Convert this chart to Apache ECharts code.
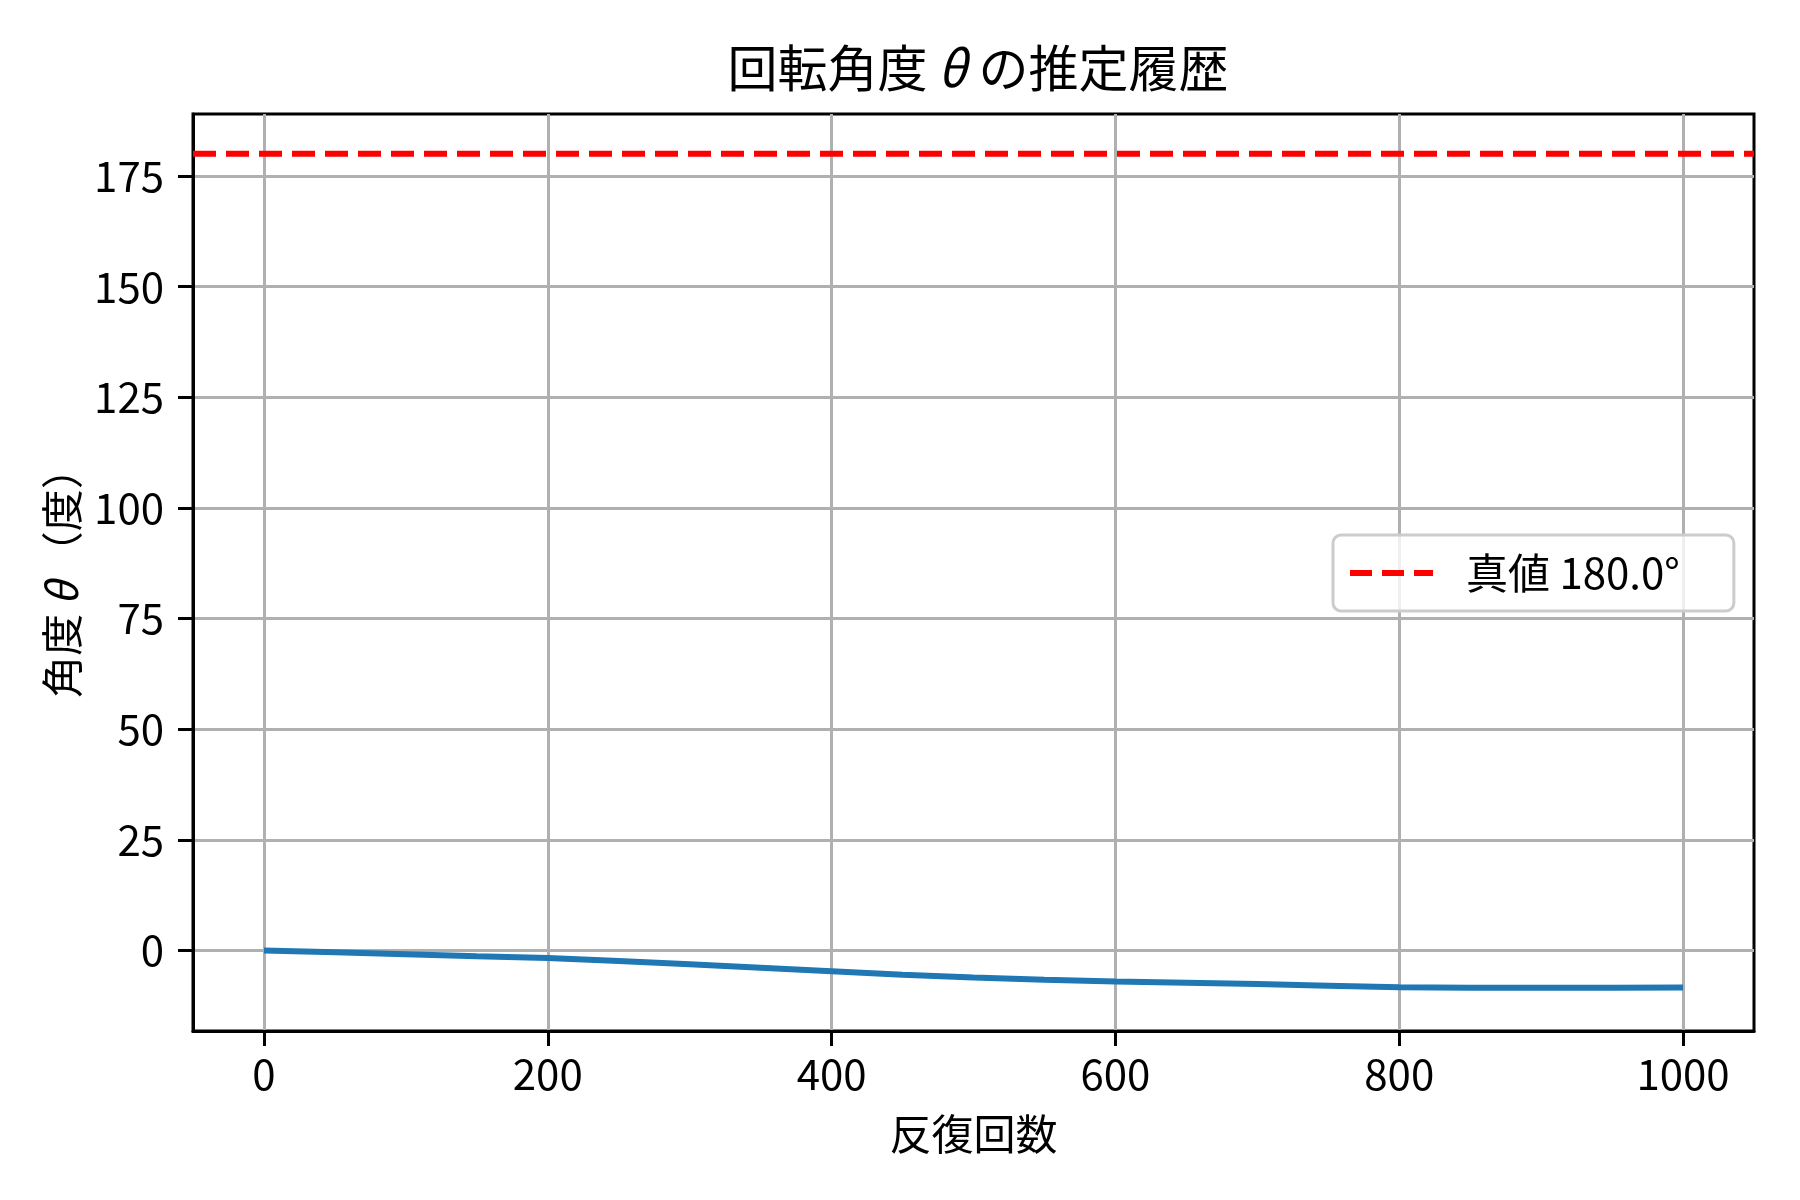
<!DOCTYPE html>
<html>
<head>
<meta charset="utf-8">
<script src="https://cdn.jsdelivr.net/npm/echarts@6/dist/echarts.min.js"></script>
<style>
  html, body, #main { width: 1800px; height: 1200px; margin: 0; background: #fff; }
</style>
</head>
<body>
<div id="main"></div>
<script>
// iteration counts and estimated angle (degrees)
var iterations = [0, 50, 100, 150, 200, 250, 300, 350, 400, 450, 500, 550, 600, 650, 700, 750, 800, 850, 900, 950, 1000];
var thetaDeg = [0, -0.4, -0.85, -1.3, -1.7, -2.4, -3.1, -3.9, -4.7, -5.5, -6.1, -6.6, -7.0, -7.3, -7.6, -7.95, -8.3, -8.4, -8.4, -8.4, -8.35];
var trueTheta = 180.0;
var xRange = [-50, 1050];
var yRange = [-18.2, 189];
var xTicks = [0, 200, 400, 600, 800, 1000];
var yTicks = [0, 25, 50, 75, 100, 125, 150, 175];

var FONT = '"Noto Sans CJK JP", "Noto Sans", sans-serif';

var chart = echarts.init(document.getElementById('main'), null, { renderer: 'canvas' });

var estData = iterations.map(function (x, i) { return [x, thetaDeg[i]]; });
var trueData = xRange.map(function (x) { return [x, trueTheta]; });
var trueName = '真値 ' + trueTheta.toFixed(1) + '°';

// dashed legend swatch (three dashes)
var dashIcon = 'path://M0,0h22v6h-22z M32,0h22v6h-22z M64,0h19v6h-19z';

var option = {
  backgroundColor: '#ffffff',
  animation: false,
  title: {
    text: '回転角度{i|θ}の推定履歴',
    left: 973, top: 38,
    textAlign: 'center',
    textStyle: {
      fontFamily: FONT, fontSize: 50, fontWeight: 'normal', color: '#000',
      rich: { i: { fontFamily: FONT, fontSize: 50, fontStyle: 'italic', color: '#000', padding: [0, 12, 0, 10] } }
    }
  },
  grid: {
    left: 193, right: 46, top: 114, bottom: 169,
    show: true, borderColor: '#000', borderWidth: 3, backgroundColor: 'transparent'
  },
  legend: {
    data: [{ name: trueName, icon: dashIcon }],
    left: 1333, top: 535,
    orient: 'vertical',
    itemWidth: 83, itemHeight: 6, itemGap: 0,
    padding: [17, 54, 17, 17],
    backgroundColor: 'rgba(255,255,255,0.8)',
    borderColor: '#cccccc', borderWidth: 3, borderRadius: 8,
    textStyle: { fontFamily: FONT, fontSize: 42, color: '#000', padding: [0, 0, 0, 28] }
  },
  xAxis: {
    type: 'value',
    min: xRange[0], max: xRange[1],
    name: '反復回数', nameLocation: 'middle', nameGap: 82,
    nameTextStyle: { fontFamily: FONT, fontSize: 42, color: '#000' },
    axisLine: { show: true, onZero: false, lineStyle: { color: '#000', width: 3 } },
    axisTick: { show: true, length: 15, customValues: xTicks, lineStyle: { color: '#000', width: 3 } },
    axisLabel: {
      customValues: xTicks, margin: 22, fontFamily: FONT, fontSize: 42, color: '#000',
      formatter: function (v) { return String(v); }
    },
    splitLine: { show: true, lineStyle: { color: '#b0b0b0', width: 3 } }
  },
  yAxis: {
    type: 'value',
    min: yRange[0], max: yRange[1],
    name: '角度{i|θ}（度）', nameLocation: 'middle', nameGap: 107,
    nameTextStyle: {
      fontFamily: FONT, fontSize: 42, color: '#000',
      rich: { i: { fontFamily: FONT, fontSize: 42, fontStyle: 'italic', color: '#000', padding: [0, 8, 0, 8] } }
    },
    axisLine: { show: true, onZero: false, lineStyle: { color: '#000', width: 3 } },
    axisTick: { show: true, length: 15, customValues: yTicks, lineStyle: { color: '#000', width: 3 } },
    axisLabel: {
      customValues: yTicks, margin: 29, fontFamily: FONT, fontSize: 42, color: '#000',
      formatter: function (v) { return String(v); }
    },
    splitLine: { show: true, lineStyle: { color: '#b0b0b0', width: 3 } }
  },
  series: [
    {
      name: 'estimate',
      type: 'line',
      data: estData,
      symbol: 'none',
      smooth: false,
      lineStyle: { color: '#1f77b4', width: 6 },
      z: 3
    },
    {
      name: trueName,
      type: 'line',
      data: trueData,
      symbol: 'none',
      itemStyle: { color: '#ff0000' },
      lineStyle: { color: '#ff0000', width: 6, type: [23, 10] },
      z: 4
    }
  ]
};
chart.setOption(option);
</script>
</body>
</html>
